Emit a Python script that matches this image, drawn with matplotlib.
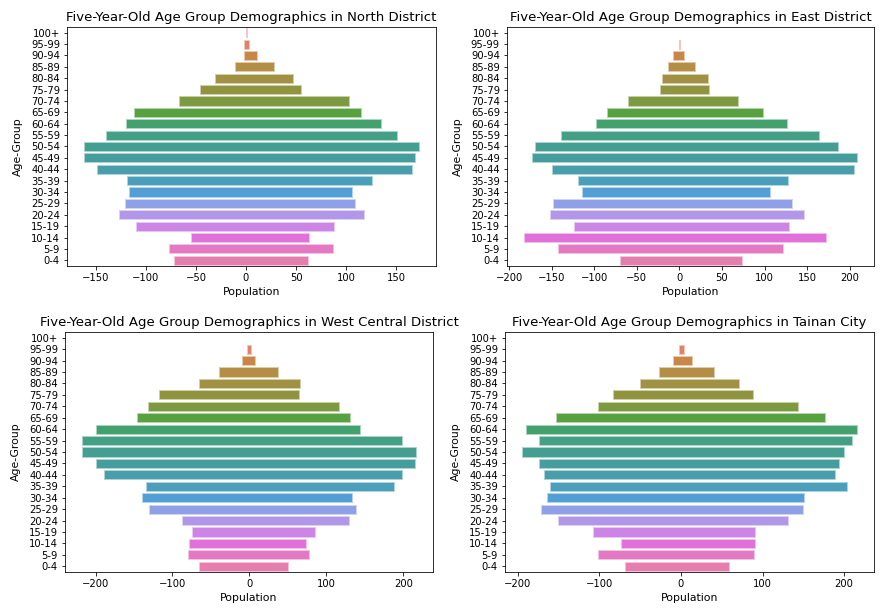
import matplotlib
matplotlib.use("Agg")
import matplotlib.pyplot as plt
import seaborn as sns
import numpy as np

age_groups = ["100+", "95-99", "90-94", "85-89", "80-84", "75-79", "70-74", "65-69",
              "60-64", "55-59", "50-54", "45-49", "40-44", "35-39", "30-34", "25-29",
              "20-24", "15-19", "10-14", "5-9", "0-4"]

north_male = [0, -2, -2, -11, -31, -46, -67, -112, -120, -140, -162, -162, -149, -119, -117, -121, -127, -110, -55, -77, -72]
north_female = [1, 3, 11, 28, 47, 55, 103, 115, 135, 151, 173, 169, 166, 126, 106, 109, 118, 88, 63, 87, 62]

east_male = [0, -1, -7, -14, -21, -23, -60, -85, -98, -139, -170, -173, -150, -119, -114, -148, -152, -124, -183, -143, -70]
east_female = [0, 1, 5, 18, 33, 35, 69, 98, 126, 164, 186, 209, 205, 128, 106, 132, 146, 129, 172, 122, 73]

west_male = [0, -3, -9, -39, -66, -117, -132, -146, -200, -218, -217, -200, -189, -135, -140, -130, -87, -74, -79, -80, -65]
west_female = [0, 2, 7, 37, 66, 64, 117, 131, 144, 199, 217, 215, 199, 188, 133, 138, 129, 85, 73, 77, 50]

tainan_male = [0, -2, -10, -27, -50, -83, -102, -153, -190, -174, -195, -174, -168, -161, -164, -171, -151, -108, -73, -102, -68]
tainan_female = [0, 4, 14, 41, 71, 88, 144, 177, 216, 209, 200, 194, 189, 203, 151, 150, 131, 91, 91, 89, 59]

titles = ["Five-Year-Old Age Group Demographics in North District",
          "Five-Year-Old Age Group Demographics in East District",
          "Five-Year-Old Age Group Demographics in West Central District",
          "Five-Year-Old Age Group Demographics in Tainan City"]

panels = [(north_male, north_female), (east_male, east_female),
          (west_male, west_female), (tainan_male, tainan_female)]

W, H = 881, 614
fig = plt.figure(figsize=(W / 72, H / 72), dpi=72)

# axes rectangles in pixels: left, top, right, bottom
rects = [(67, 27, 436, 266), (507, 27, 874, 266),
         (65, 332, 433, 572), (505, 332, 874, 572)]

palette = [sns.desaturate(c, 0.75) for c in sns.husl_palette(len(age_groups))]
edges = [tuple(0.45 * np.array(c) + 0.55) for c in palette]

for (male, female), title, (l, t, r, b) in zip(panels, titles, rects):
    ax = fig.add_axes([l / W, 1 - b / H, (r - l) / W, (b - t) / H])
    ypos = np.arange(len(age_groups))
    m = np.array(male, dtype=float)
    f = np.array(female, dtype=float)
    has = (f - m) > 0
    ax.barh(ypos[has], (f - m)[has], left=m[has], height=0.8,
            color=[palette[i] for i in ypos[has]],
            edgecolor=[edges[i] for i in ypos[has]], linewidth=1.0)
    ax.set_yticks(ypos)
    ax.set_yticklabels(age_groups, fontsize=10)
    ax.set_ylim(len(age_groups) - 0.5, -0.5)
    lo = m.min()
    hi = f.max()
    pad = (hi - lo) * 0.05
    ax.set_xlim(lo - pad, hi + pad)
    ax.tick_params(axis="x", labelsize=10)
    ax.set_xlabel("Population", fontsize=10.9)
    ax.set_ylabel("Age-Group", fontsize=10.9, labelpad=8)
    ax.set_title(title, fontsize=13.3)

fig.savefig("out.png", dpi=72)
